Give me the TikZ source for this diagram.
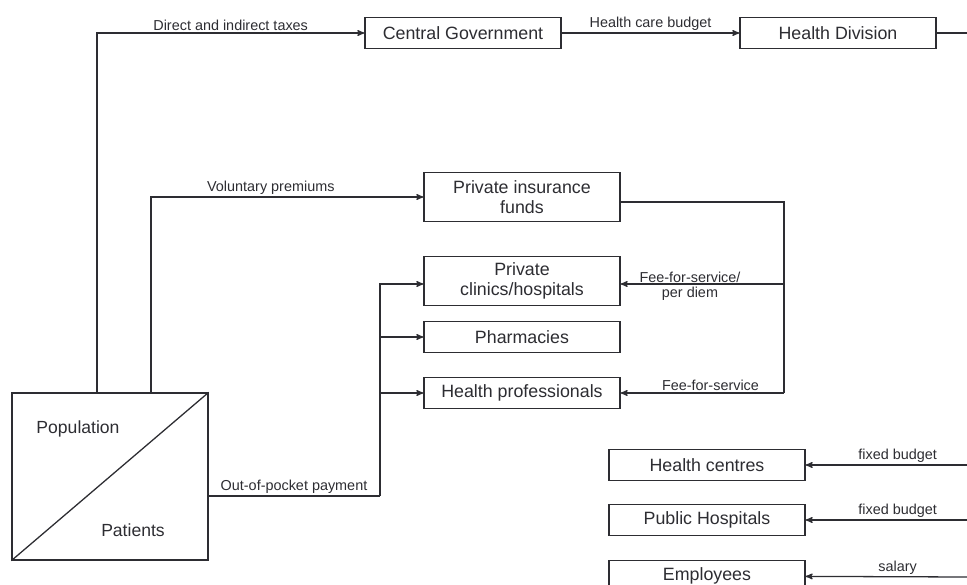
\documentclass[tikz,border=0pt]{standalone}
\usepackage{fontspec}
\setmainfont{Liberation Sans}
\usetikzlibrary{arrows}
\definecolor{ink}{RGB}{45,45,50}
\tikzstyle{every picture}+=[>=stealth']
\tikzstyle{every picture}+=[line width=1.1pt]
\tikzstyle{every picture}+=[draw=ink]
\tikzstyle{box}=[draw=ink, fill=white, text=ink, align=center]
\tikzstyle{box}+=[minimum width=5.88cm, minimum height=0.93cm, inner sep=0pt]
\tikzstyle{box}+=[font=\fontsize{15.2}{16.5}\selectfont]
\tikzstyle{tallbox}=[box, minimum height=1.47cm]
\tikzstyle{lab}=[text=ink, inner sep=1.5pt, font=\fontsize{12.3}{13}\selectfont]
\tikzstyle{big}=[text=ink, inner sep=0pt, font=\fontsize{15}{16}\selectfont]

\begin{document}
\begin{tikzpicture}[x=0.03cm,y=-0.03cm]
\useasboundingbox (0,0) rectangle (967,585);

\node[box] (cg) at (463,33) {Central Government};
\node[box] (hd) at (838,33) {Health Division};

\node[tallbox] (pif) at (522,197) {Private insurance\\funds};
\node[tallbox] (clinic) at (522,281) {Private\\clinics/hospitals};
\node[box] (pharm) at (522,337) {Pharmacies};
\node[box] (prof) at (522,393) {Health professionals};

\node[box] (hc) at (707,465) {Health centres};
\node[box] (ph) at (707,520) {Public Hospitals};
\node[box] (emp) at (707,576) {Employees};

% population / patients
\node[draw=ink, minimum width=5.88cm, minimum height=5.01cm, inner sep=0pt] (pop) at (110,476.5) {};
\draw (pop.south west) -- (pop.north east);
\node[big] (popl) at (78,429) {Population};
\node[big] (pat) at (133,530) {Patients};

\coordinate (tax) at (97,393);
\coordinate (vol) at (151,393);
\coordinate (oop) at (208,496);
\coordinate (split) at (380,496);
\coordinate (rail) at (784,202);
\coordinate (hdout) at (967,33);
\coordinate (hcin) at (967,465);
\coordinate (phin) at (967,520);
\coordinate (empin) at (967,577);

\draw[->] (tax) |- node[lab, above, pos=0.75] {Direct and indirect taxes} (cg);
\draw[->] (cg) -- node[lab, above] {Health care budget} (hd);
\draw (hd) -- (hdout);

\draw[->] (vol) |- node[lab, above, pos=0.72] {Voluntary premiums} (pif);

\draw (oop) -- node[lab, above] {Out-of-pocket payment} (split);
\draw[->] (split) |- (0,284 -| clinic.west);
\draw[->] (split) |- (pharm);
\draw[->] (split) |- (prof);

\draw (pif.east |- rail) -- (rail) -- (rail |- prof);
\draw[->] (rail |- 0,284) -- (clinic.east |- 0,284);
\node[lab, align=center] (ffsp) at (690,286) {Fee-for-service/\\per diem};
\draw[->] (rail |- prof) -- node[lab, above, pos=0.45] {Fee-for-service} (prof);

\draw[->] (hcin) -- node[lab, above, pos=0.43] {fixed budget} (hc);
\draw[->] (phin) -- node[lab, above, pos=0.43] {fixed budget} (ph);
\draw[->] (empin) -- node[lab, above, pos=0.43] {salary} (emp);
\end{tikzpicture}
\end{document}
